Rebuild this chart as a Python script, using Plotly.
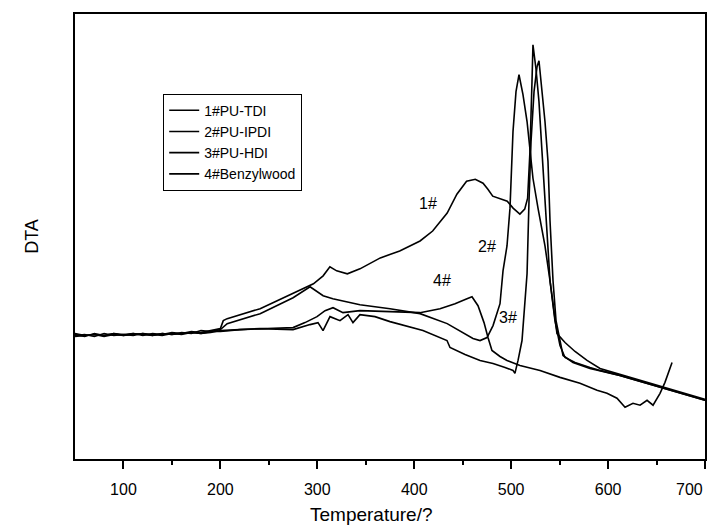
import plotly.graph_objects as go

# Temperature (deg C) and DTA (arbitrary units)
base_T = [50, 60, 70, 80, 90, 100, 110, 120, 130, 140, 150, 160, 170, 180, 190, 200]

t1 = base_T + [203, 207, 241, 275, 296, 306, 313, 320, 331, 344, 365, 385, 406, 419, 434, 444, 454, 463,
               471, 476, 481, 496, 502, 509, 514, 517, 519.4, 521.5, 522.5, 525.6, 528.7, 531.8, 535.9,
               540.1, 545.2, 550.4, 555.6, 565.9, 581.3, 591.7, 612.3, 632.9, 653.6, 674.2, 700]
d1 = [12.4, 12.5, 12.3, 12.6, 12.4, 12.5, 12.6, 12.4, 12.6, 12.5, 12.7, 12.6, 12.8, 12.7, 12.9, 13.1] + \
     [13.9, 14.1, 15.1, 16.6, 17.6, 18.4, 19.3, 18.9, 18.6, 19.1, 20.2, 20.9, 21.9, 22.9, 24.7, 26.6, 27.9, 28.1,
      27.7, 27.1, 26.4, 25.9, 25.2, 24.6, 25.1, 26.2, 30.9, 37.9, 41.6, 39.2, 35.9, 30.9, 23.9,
      17.9, 13.9, 11.4, 10.2, 9.7, 9.2, 8.9, 8.4, 7.8, 7.2, 6.6, 5.9]

t2 = base_T + [207, 241, 275, 292.5, 306, 316, 344, 375, 406, 434, 460.6, 467.9, 475.1, 481.3, 488.5, 491.6,
               495.7, 498.8, 501.9, 505.0, 508.1, 512.2, 516.4, 519.4, 522.5, 527.7, 534.9, 540.1, 545.2,
               547.3, 555.6, 565.9, 578.3, 591.7, 612, 633, 654, 674, 700]
d2 = [12.5, 12.3, 12.6, 12.4, 12.6, 12.4, 12.5, 12.6, 12.4, 12.6, 12.5, 12.7, 12.6, 12.9, 12.8, 13.0] + \
     [13.6, 14.6, 16.2, 17.3, 16.4, 16.1, 15.5, 15.1, 14.6, 13.6, 12.1, 11.9, 12.2, 13.4, 15.6, 18.9,
      21.4, 25.2, 32.9, 36.9, 38.6, 36.6, 33.9, 31.2, 28.2, 25.2, 21.4, 17.9, 13.9,
      12.6, 11.7, 10.8, 9.9, 9.1, 8.5, 7.9, 7.3, 6.7, 6.0]

t3 = base_T + [220, 241, 275, 292.5, 300.7, 305.9, 313.1, 323.4, 331.7, 336.8, 344, 359.5, 375, 409, 433.8,
               436.9, 452.4, 467.9, 481.3, 493.7, 501.9, 503.9, 507.1, 511.2, 514.3, 516.4, 518.4, 520.5,
               523.6, 526.7, 528.7, 531.8, 534.9, 538.0, 540.1, 543.2, 546.3, 550.4, 553.5, 563.8, 581.3,
               612, 633, 654, 674, 700]
d3 = [12.3, 12.4, 12.5, 12.3, 12.5, 12.4, 12.6, 12.5, 12.4, 12.6, 12.5, 12.6, 12.7, 12.6, 12.8, 12.8] + \
     [13.0, 13.1, 13.0, 13.5, 13.7, 12.9, 14.3, 13.9, 14.5, 13.7, 14.5, 14.3, 13.8, 12.9, 11.9,
      11.2, 10.5, 9.9, 9.6, 9.2, 8.9, 8.6, 9.9, 11.9, 15.9, 18.6, 25.9, 31.9,
      36.9, 39.4, 40.0, 37.2, 33.9, 29.9, 23.9, 17.9, 13.9, 11.9, 10.4, 9.7, 9.1,
      8.4, 7.8, 7.2, 6.6, 5.9]

t4 = base_T + [220, 275, 287.3, 299.7, 308, 316.2, 326.5, 344, 375, 405.9, 426.6, 442.1, 454.4, 459.6, 465.8,
               472.0, 476.1, 480.2, 488.5, 495.7, 509.1, 529.8, 550.4, 571.0, 588.6, 598.9, 609.2, 617.5,
               625.7, 633.0, 640.2, 646.4, 653.6, 658.7, 666.0]
d4 = [12.6, 12.4, 12.5, 12.4, 12.6, 12.5, 12.4, 12.6, 12.5, 12.4, 12.6, 12.5, 12.7, 12.6, 12.7, 12.9] + \
     [13.0, 13.2, 13.7, 14.3, 14.9, 15.2, 14.7, 14.9, 14.8, 14.7, 15.1, 15.6, 16.1, 16.3, 15.4,
      13.7, 12.2, 10.9, 10.3, 9.9, 9.4, 8.9, 8.2, 7.6, 6.9, 6.6, 6.1, 5.2,
      5.6, 5.4, 5.9, 5.4, 6.6, 7.7, 9.7]

names = ["1#PU-TDI", "2#PU-IPDI", "3#PU-HDI", "4#Benzylwood"]
series_T = [t1, t2, t3, t4]
series_D = [d1, d2, d3, d4]

labels = ["1#", "2#", "4#", "3#"]
label_T = [414, 475, 429, 497]
label_D = [25.7, 21.3, 17.9, 14.2]

x_ticks = [100, 200, 300, 400, 500, 600, 700]
x_ticktext = ["100", "200", "300", "400", "500", "600", ""]   # last label drawn inset below

fig = go.Figure()
for name, tx, dy in zip(names, series_T, series_D):
    fig.add_trace(go.Scatter(x=tx, y=dy, mode="lines", name=name,
                             line=dict(color="black", width=1.6)))

for lab, tx, dy in zip(labels, label_T, label_D):
    fig.add_annotation(x=tx, y=dy, text=lab, showarrow=False,
                       font=dict(size=16, color="black"))

# last tick label sits inset from the right edge, as in the reference
fig.add_annotation(xref="x", yref="paper", x=700, y=-0.069, xanchor="right", yanchor="middle",
                   text="700", showarrow=False, font=dict(size=16, color="black"))

# x-axis title, placed slightly left of the plot centre as in the reference
fig.add_annotation(xref="paper", yref="paper", x=0.47, y=-0.125, xanchor="center", yanchor="middle",
                   text="Temperature/?", showarrow=False, font=dict(size=19, color="black"))

# The page body has an 8 px margin, so the figure is drawn 8 px smaller and
# its margins shifted to keep the plot area where the reference has it.
fig.update_layout(
    width=714, height=520,
    margin=dict(l=67, r=17, t=4, b=69),
    paper_bgcolor="white", plot_bgcolor="white",
    font=dict(family="Liberation Sans, Arial, sans-serif", color="black"),
    showlegend=True,
    legend=dict(x=0.14, y=0.821, xanchor="left", yanchor="top",
                bordercolor="black", borderwidth=1, bgcolor="white",
                font=dict(size=14), itemwidth=30, tracegroupgap=0),
    xaxis=dict(range=[50, 700], tickvals=x_ticks, ticktext=x_ticktext, ticks="outside", ticklen=8,
               tickwidth=1.5, tickcolor="black", showline=True, linecolor="black", linewidth=2,
               mirror=True, showgrid=False, zeroline=False, tickfont=dict(size=16), ticklabelstandoff=7,
               minor=dict(tickvals=[150, 250, 350, 450, 550, 650], ticks="outside", ticklen=4,
                          tickwidth=1.5, tickcolor="black")),
    yaxis=dict(range=[0, 44.7], showticklabels=False, ticks="", showline=True, linecolor="black",
               linewidth=2, mirror=True, showgrid=False, zeroline=False,
               title=dict(text="DTA", font=dict(size=18), standoff=30)),
)

fig.write_html("out.html")
